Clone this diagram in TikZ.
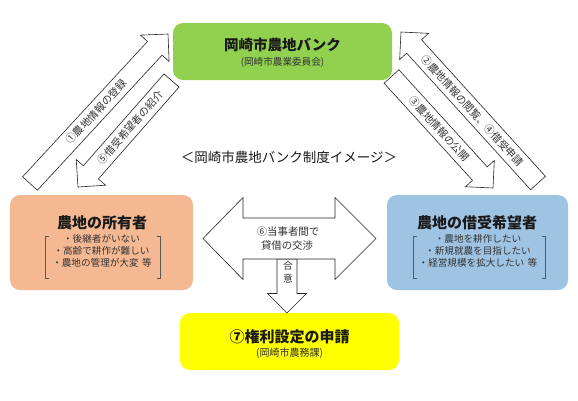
\documentclass[tikz,border=0pt]{standalone}
\usepackage{fontspec}
\setmainfont{Noto Sans CJK JP}
\usetikzlibrary{calc}
\definecolor{bankgreen}{HTML}{92D050}
\definecolor{ownerorange}{HTML}{F4B993}
\definecolor{seekerblue}{HTML}{9FC3E3}
\definecolor{applyyellow}{HTML}{FFFF00}
\definecolor{inkdark}{HTML}{1A1A1A}
\definecolor{inkgray}{HTML}{333333}
\newcommand\blockarrow[2]{%
  \coordinate (bac) at ($(#2)!19.5pt!(#1)$);
  \draw[arrowline] ($(#1)!10pt!90:(#2)$) -- ($(bac)!10pt!-90:(#1)$) -- ($(bac)!19.5pt!-90:(#1)$) -- (#2)
    -- ($(bac)!19.5pt!90:(#1)$) -- ($(bac)!10pt!90:(#1)$) -- ($(#1)!10pt!-90:(#2)$) -- cycle;
}
\begin{document}
\begin{tikzpicture}[x=1pt,y=-1pt,
  box/.style={rounded corners=10pt, draw=none, inner sep=0pt},
  arrowline/.style={draw=black!85, line width=0.6pt, fill=white, line join=miter},
  arrowtext/.style={font=\fontsize{10.4}{12}\selectfont, text=inkgray, inner sep=0pt},
  boxtitle/.style={font=\fontsize{15}{17}\selectfont\bfseries, text=inkdark, inner sep=0pt},
  boxsub/.style={font=\fontsize{9.6}{11}\selectfont, text=inkgray, inner sep=0pt},
  bracketline/.style={draw=black!65, line width=0.6pt},
  caption/.style={font=\fontsize{13.5}{15}\selectfont, text=inkdark, inner sep=0pt}]
\useasboundingbox[fill=white] (0,0) rectangle (578,400);

% boxes
\node[box, fill=bankgreen, minimum width=219pt, minimum height=57pt] (bank) at (282.5,51.5) {};
\node[box, fill=ownerorange, minimum width=183pt, minimum height=95pt] (owner) at (101.5,242.5) {};
\node[box, fill=seekerblue, minimum width=181pt, minimum height=95pt] (seeker) at (477.5,242.5) {};
\node[box, fill=applyyellow, minimum width=219pt, minimum height=57pt] (apply) at (289.5,341.5) {};

% bank texts
\node[boxtitle, font=\fontsize{14.5}{16}\selectfont\bfseries] (bankT) at (282.5,45) {岡崎市農地バンク};
\node[boxsub] (bankS) at (282.5,62) {(岡崎市農業委員会)};

% caption
\node[caption] (cap) at (289,157) {＜岡崎市農地バンク制度イメージ＞};

% owner texts
\node[boxtitle] (ownerT) at (102,223) {農地の所有者};
\node[boxsub] (ownerL1) at (101.5,238.5) {・後継者がいない};
\node[boxsub] (ownerL2) at (101.5,250.5) {・高齢で耕作が難しい};
\node[boxsub] (ownerL3) at (102,262.5) {・農地の管理が大変\hspace{3.5pt}等};
\draw[bracketline] (48.5,236) -- (45,236) -- (45,278) -- (48.5,278);
\draw[bracketline] (156.5,236) -- (160,236) -- (160,278) -- (156.5,278);

% seeker texts
\node[boxtitle] (seekerT) at (477,223) {農地の借受希望者};
\node[boxsub] (seekerL1) at (478,238.5) {・農地を耕作したい};
\node[boxsub] (seekerL2) at (478,250.5) {・新規就農を目指したい};
\node[boxsub] (seekerL3) at (478,262.5) {・経営規模を拡大したい\hspace{3.5pt}等};
\draw[bracketline] (416.5,236) -- (413,236) -- (413,278) -- (416.5,278);
\draw[bracketline] (541.5,236) -- (545,236) -- (545,278) -- (541.5,278);

% apply texts
\node[boxtitle] (applyT) at (289.5,337) {⑦権利設定の申請};
\node[boxsub, font=\fontsize{10}{12}\selectfont] (applyS) at (289.5,353) {(岡崎市農務課)};

% diagonal block arrows
\coordinate (t1) at (30,183.5);  \coordinate (h1) at (168,34);
\coordinate (t5) at (171.5,80.5); \coordinate (h5) at (78,187);
\coordinate (t2) at (538,183);   \coordinate (h2) at (401,32);
\coordinate (t3) at (391.5,76.5); \coordinate (h3) at (493,188);
\blockarrow{t1}{h1}
\blockarrow{t5}{h5}
\blockarrow{t2}{h2}
\blockarrow{t3}{h3}
\path (t1) -- (h1) node[arrowtext, sloped, pos=0.48] (a1) {①農地情報の登録};
\path (t5) -- (h5) node[arrowtext, sloped, pos=0.44] (a5) {⑤借受希望者の紹介};
\path (t2) -- (h2) node[arrowtext, sloped, pos=0.478] (a2) {②農地情報の閲覧、④借受申請};
\path (t3) -- (h3) node[arrowtext, sloped, pos=0.47] (a3) {③農地情報の公開};

% central negotiation arrows
\coordinate (dt) at (287,259); \coordinate (db) at (287,313);
\blockarrow{dt}{db}
\coordinate (dl) at (203,238.5); \coordinate (dr) at (376,238.5);
\draw[arrowline] (dl) -- ($(dl)+(40,-41)$) -- ($(dl)+(40,-20.5)$) -- ($(dr)+(-41,-20.5)$) -- ($(dr)+(-41,-41)$)
  -- (dr) -- ($(dr)+(-41,41)$) -- ($(dr)+(-41,20.5)$) -- ($(dl)+(40,20.5)$) -- ($(dl)+(40,41)$) -- cycle;
\node[arrowtext] (n1) at (288,232) {⑥当事者間で};
\node[arrowtext] (n2) at (287,246) {貸借の交渉};
\node[arrowtext, font=\fontsize{9.8}{11}\selectfont] (g1) at (288,266) {合};
\node[arrowtext, font=\fontsize{9.8}{11}\selectfont] (g2) at (288,279) {意};
\end{tikzpicture}
\end{document}
